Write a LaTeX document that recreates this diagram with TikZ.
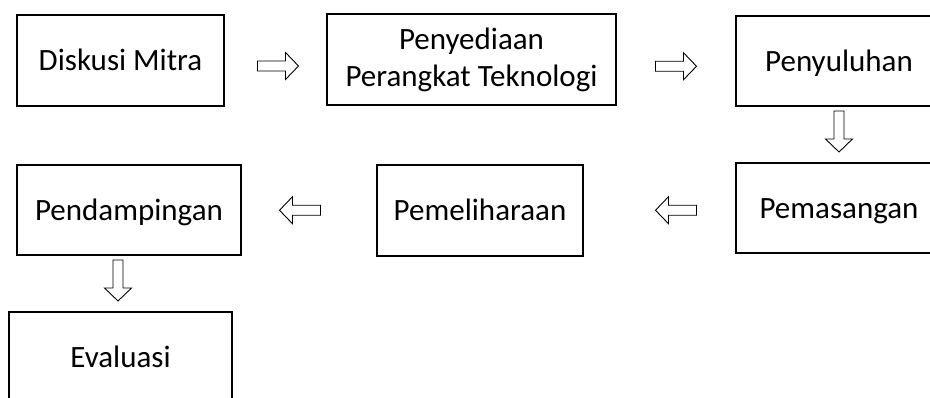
\documentclass[tikz,border=0pt]{standalone}
\usepackage{fontspec}
\setmainfont{Carlito}
\usetikzlibrary{calc}

\tikzset{
  stepbox/.style={draw=black, line width=1.3pt, fill=white, inner sep=0pt,
    font=\fontsize{31}{37}\selectfont, align=center},
  oneline/.style={text height=28pt, text depth=8pt},
  arrowline/.style={draw=black, line width=0.9pt, fill=white, line join=miter},
  % outlined block arrow pointing along +x, centred on the pic origin
  pics/blockarrow/.style={code={
    \path[arrowline] (-20.5,-5) -- (7.5,-5) -- (7.5,-13.5) -- (20.5,0)
      -- (7.5,13.5) -- (7.5,5) -- (-20.5,5) -- cycle;
  }}
}

\begin{document}
\begin{tikzpicture}[x=1pt, y=-1pt]
  \clip (0,0) rectangle (930,397);
  \fill[white] (0,0) rectangle (930,397);

  % process steps
  \node[stepbox, oneline, minimum width=207pt, minimum height=91pt] (d)  at (120.5,60.5) {Diskusi Mitra};
  \node[stepbox, minimum width=289pt, minimum height=91pt]          (pp) at (471.5,59.5) {Penyediaan\\Perangkat Teknologi};
  \node[stepbox, oneline, minimum width=206pt, minimum height=90pt] (pl) at (839,61)     {Penyuluhan};
  \node[stepbox, oneline, minimum width=206pt, minimum height=90pt] (pm) at (839,208)    {Pemasangan};
  \node[stepbox, oneline, minimum width=206pt, minimum height=91pt] (ph) at (480,210.5)  {Pemeliharaan};
  \node[stepbox, oneline, minimum width=224pt, minimum height=90pt] (pd) at (129,210)    {Pendampingan};
  \node[stepbox, oneline, minimum width=223pt, minimum height=90pt] (ev) at (120.5,357)  {Evaluasi};

  % block arrows between the steps
  \pic at ($(d.east)!0.5!(pp.west)+(2.5,6)$) {blockarrow};
  \pic at ($(pp.east)!0.5!(pl.west)+(0,6)$) {blockarrow};
  \pic[rotate=-90] at ($(pl.south)!0.5!(pm.north)+(0,-3)$) {blockarrow};
  \pic[rotate=180] at ($(pm.west)!0.5!(ph.east)+(16.5,1)$) {blockarrow};
  \pic[rotate=180] at ($(ph.west)!0.5!(pd.east)+(-9,0)$) {blockarrow};
  \pic[rotate=-90] at ($(pd.south)!0.5!(ev.north)+(-6.75,-3)$) {blockarrow};
\end{tikzpicture}
\end{document}
